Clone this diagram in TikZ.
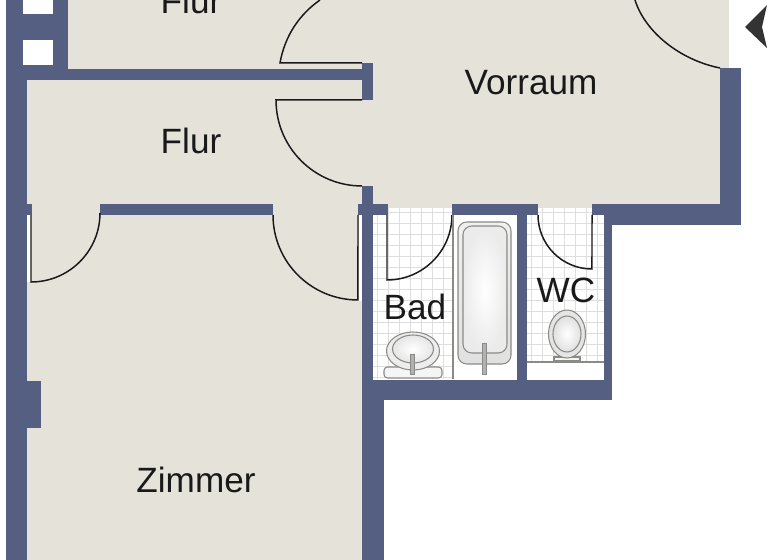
\documentclass[tikz,border=0pt]{standalone}
\usepackage{fontspec}
\setmainfont{Liberation Sans}
\usepackage{xcolor}
\definecolor{wallblue}{HTML}{555F82}
\definecolor{floorgrey}{HTML}{E5E2DA}
\definecolor{tilegrey}{HTML}{DEDEDE}
\definecolor{inkline}{HTML}{1A1A1A}
\definecolor{fixline}{HTML}{8A8A86}
\usetikzlibrary{positioning}
\tikzset{
  wall/.style={fill=wallblue, draw=none},
  floorarea/.style={fill=floorgrey, draw=none},
  doorline/.style={draw=inkline, line width=0.85pt},
  fixture/.style={draw=fixline, line width=0.6pt},
  roomlabel/.style={font=\fontsize{20}{24}\selectfont, text=black!90, anchor=base, inner sep=0pt}
}
\begin{document}
\begin{tikzpicture}[x=0.02cm, y=-0.02cm]
    \useasboundingbox (0,0) rectangle (768,560);
    \clip (0,0) rectangle (768,560);

    % floors
    \fill[floorarea] (68,0) rectangle (729,69);
    \fill[floorarea] (27,80) rectangle (362,560);
    \fill[floorarea] (362,0) rectangle (720,208);

    % tiles
    \fill[white] (373,208) rectangle (517,380);
    \fill[white] (527,208) rectangle (604,380);
    \begin{scope}
        \clip (373,208) rectangle (452,379) (527,208) rectangle (604,362);
        \foreach \gx in {377,388,...,600} {\draw[tilegrey, line width=0.3pt] (\gx,208) -- (\gx,380);}
        \foreach \gy in {212,223,...,380} {\draw[tilegrey, line width=0.3pt] (373,\gy) -- (604,\gy);}
    \end{scope}

    % walls
    \fill[wall] (6,0) rectangle (27,560);
    \fill[wall] (6,0) rectangle (68,80);
    \fill[white] (23,0) rectangle (53,14);
    \fill[white] (23,40) rectangle (53,65);
    \fill[wall] (68,69) rectangle (362,80);
    \fill[wall] (362,63) rectangle (373,100);
    \fill[wall] (27,381) rectangle (41,428);
    \fill[wall] (27,204) rectangle (32,215);
    \fill[wall] (100,204) rectangle (273,215);
    \fill[wall] (358,204) rectangle (388,215);
    \fill[wall] (362,186) rectangle (373,400);
    \fill[wall] (362,380) rectangle (384,560);
    \fill[wall] (362,380) rectangle (612,400);
    \fill[wall] (452,204) rectangle (538,215);
    \fill[wall] (517,204) rectangle (527,380);
    \fill[wall] (604,215) rectangle (612,400);
    \fill[wall] (592,204) rectangle (741,215);
    \fill[wall] (604,204) rectangle (741,225);
    \fill[wall] (720,68) rectangle (741,225);

    % door frames
    \fill[white] (27,215) rectangle (31,282);
    \fill[white] (359,215) rectangle (362,301);

    % doors
    \draw[doorline] (320,0) .. controls (300,14) and (285,35) .. (280,63) -- (362,63);
    \draw[doorline] (362,100) -- (276,100) arc[start angle=180, end angle=270, radius=1.72cm];
    \draw[doorline] (635,0) .. controls (645,32) and (680,60) .. (720,68);
    \draw[doorline] (31,215) -- (31,282) arc[start angle=-90, end angle=0, radius=1.38cm];
    \draw[doorline] (273,215) arc[start angle=180, end angle=270, radius=1.70cm] -- (358,215);
    \draw[doorline] (387,215) -- (387,280) arc[start angle=-90, end angle=0, radius=1.30cm];
    \draw[doorline] (538,215) arc[start angle=180, end angle=270, radius=1.08cm] -- (592,215);

    % bath
    \draw[fixture] (453,215) -- (453,379);
    \draw[fixture, rounded corners=5pt, top color=black!6, bottom color=black!12] (458,222) rectangle (511,364);
    \draw[fixture, rounded corners=5pt, shading=radial, inner color=white, outer color=black!8] (463,226) -- (507,226) -- (507,353) -- (463,353) -- cycle;
    \draw[fixture, fill=black!30, line width=0.5pt] (482,343) rectangle (486,374);

    % basin
    \draw[fixture, fill=black!4, rounded corners=2pt] (384,367) rectangle (442,378);
    \draw[fixture, fill=black!7] (413,351) ellipse [x radius=0.53cm, y radius=0.38cm];
    \draw[fixture, shading=radial, inner color=white, outer color=black!10] (413,349) ellipse [x radius=0.41cm, y radius=0.28cm];
    \draw[fixture, fill=black!30, line width=0.5pt] (410,354) rectangle (414,374);

    % toilet
    \draw[fixture, fill=black!4] (554,357) rectangle (580,361);
    \draw[fixture, fill=black!10] (567,334) ellipse [x radius=0.37cm, y radius=0.48cm];
    \draw[fixture, shading=radial, inner color=white, outer color=black!12] (567,334) ellipse [x radius=0.28cm, y radius=0.36cm];
    \draw[fixture] (527,362) -- (604,362);

    % north marker
    \fill[black!80] (745,27) -- (767,5) -- (762,27) -- (767,48) -- cycle;

    % labels
    \node[roomlabel] (flurtop) at (191,14) {Flur};
    \node[roomlabel] (flur) at (191,154) {Flur};
    \node[roomlabel] (vorraum) at (531,95) {Vorraum};
    \node[roomlabel] (zimmer) at (196,493) {Zimmer};
    \node[roomlabel] (bad) at (415,320) {Bad};
    \node[roomlabel] (wc) at (566,303) {WC};
\end{tikzpicture}
\end{document}
